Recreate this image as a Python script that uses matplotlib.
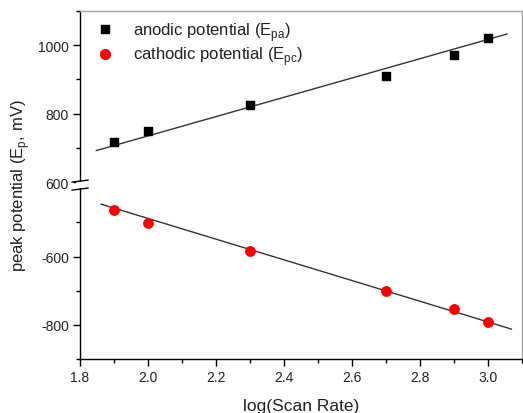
import numpy as np
import matplotlib
matplotlib.use('Agg')
import matplotlib.pyplot as plt
from matplotlib.lines import Line2D
from matplotlib.patches import Rectangle
from matplotlib.ticker import FixedLocator, MultipleLocator

plt.rcParams['font.family'] = ['Liberation Sans', 'DejaVu Sans']

# --- data ---
log_rate = [1.9, 2.0, 2.3, 2.7, 2.9, 3.0]
e_pa = [716, 748, 824, 910, 970, 1022]          # anodic peak potential, mV
e_pc = [-463, -502, -583, -701, -754, -790]     # cathodic peak potential, mV

# linear fits as drawn in the reference (slope, intercept, x range)
fit_pa = (282.0, 171.0, 1.848, 3.056)
fit_pc = (-302.5, 116.3, 1.862, 3.069)

# broken y axis: lower segment -900..-400, upper segment 600..1100
low_seg = (-900, -400)
high_seg = (600, 1100)
gap = 17.5


def fwd(y):
    y = np.asarray(y, dtype=float)
    lo = y + 900
    mid = 500 + (y + 400) * gap / 1000
    hi = y - 600 + 500 + gap
    return np.where(y <= -400, lo, np.where(y >= 600, hi, mid))


def inv(v):
    v = np.asarray(v, dtype=float)
    lo = v - 900
    mid = (v - 500) * 1000 / gap - 400
    hi = v + 600 - 500 - gap
    return np.where(v <= 500, lo, np.where(v >= 500 + gap, hi, mid))


fig = plt.figure(figsize=(5.23, 4.14), dpi=100, facecolor='white')
ax = fig.add_axes([0.153, 0.130, 0.845, 0.841])
ax.set_yscale('function', functions=(fwd, inv))

ax.scatter(log_rate, e_pa, marker='s', s=34, color='black', zorder=3)
ax.scatter(log_rate, e_pc, marker='o', s=46, color='red', zorder=3)

for slope, icpt, x0, x1 in (fit_pa, fit_pc):
    xs = np.array([x0, x1])
    ax.plot(xs, slope * xs + icpt, color='#333333', lw=1.0, zorder=2)

ax.set_xlim(1.8, 3.1)
ax.set_ylim(low_seg[0], high_seg[1])

ax.xaxis.set_major_locator(MultipleLocator(0.2))
ax.xaxis.set_minor_locator(MultipleLocator(0.1))
ax.yaxis.set_major_locator(FixedLocator([-800, -600, 600, 800, 1000]))
ax.yaxis.set_minor_locator(FixedLocator([-900, -700, -500, 700, 900, 1100]))
ax.xaxis.set_major_formatter(matplotlib.ticker.FormatStrFormatter('%.1f'))
ax.yaxis.set_major_formatter(matplotlib.ticker.FormatStrFormatter('%d'))

ax.tick_params(which='major', direction='out', length=5, width=1,
               labelsize=10, labelcolor='#222222', pad=3)
ax.tick_params(which='minor', direction='out', length=3, width=1)
ax.tick_params(axis='y', which='both', right=False)
ax.tick_params(axis='x', which='both', top=False)

for side in ('left', 'bottom'):
    ax.spines[side].set_color('black')
    ax.spines[side].set_linewidth(1.0)
for side in ('top', 'right'):
    ax.spines[side].set_color('#a0a0a0')
    ax.spines[side].set_linewidth(1.0)

# break marks on the left spine
tr = ax.get_yaxis_transform()
y_hi = high_seg[0]
y_lo = low_seg[1]
ax.add_patch(Rectangle((-0.01, y_lo), 0.02, y_hi - y_lo, transform=tr,
                       facecolor='white', edgecolor='none', clip_on=False, zorder=5))
for yv in (y_hi, y_lo):
    ax.add_line(Line2D([-0.018, 0.018], [yv - 6, yv + 6], transform=tr,
                       color='black', lw=1.0, clip_on=False, zorder=6))

ax.set_xlabel('log(Scan Rate)', fontsize=12.5, color='#222222', labelpad=10)
ax.set_ylabel('peak potential (E$_\\mathregular{p}$, mV)', fontsize=12,
              color='#222222', labelpad=4)

handles = [
    Line2D([], [], marker='s', ls='none', color='black', markersize=6),
    Line2D([], [], marker='o', ls='none', color='red', markersize=7),
]
labels = ['anodic potential (E$_\\mathregular{pa}$)',
          'cathodic potential (E$_\\mathregular{pc}$)']
ax.legend(handles, labels, loc='upper left', bbox_to_anchor=(0.0, 1.01),
          frameon=False, fontsize=12, handletextpad=0.9, borderaxespad=0.0,
          borderpad=0.75, labelspacing=0.1, handlelength=1.5,
          labelcolor='#222222')

fig.savefig('out.png', dpi=100, facecolor='white')
